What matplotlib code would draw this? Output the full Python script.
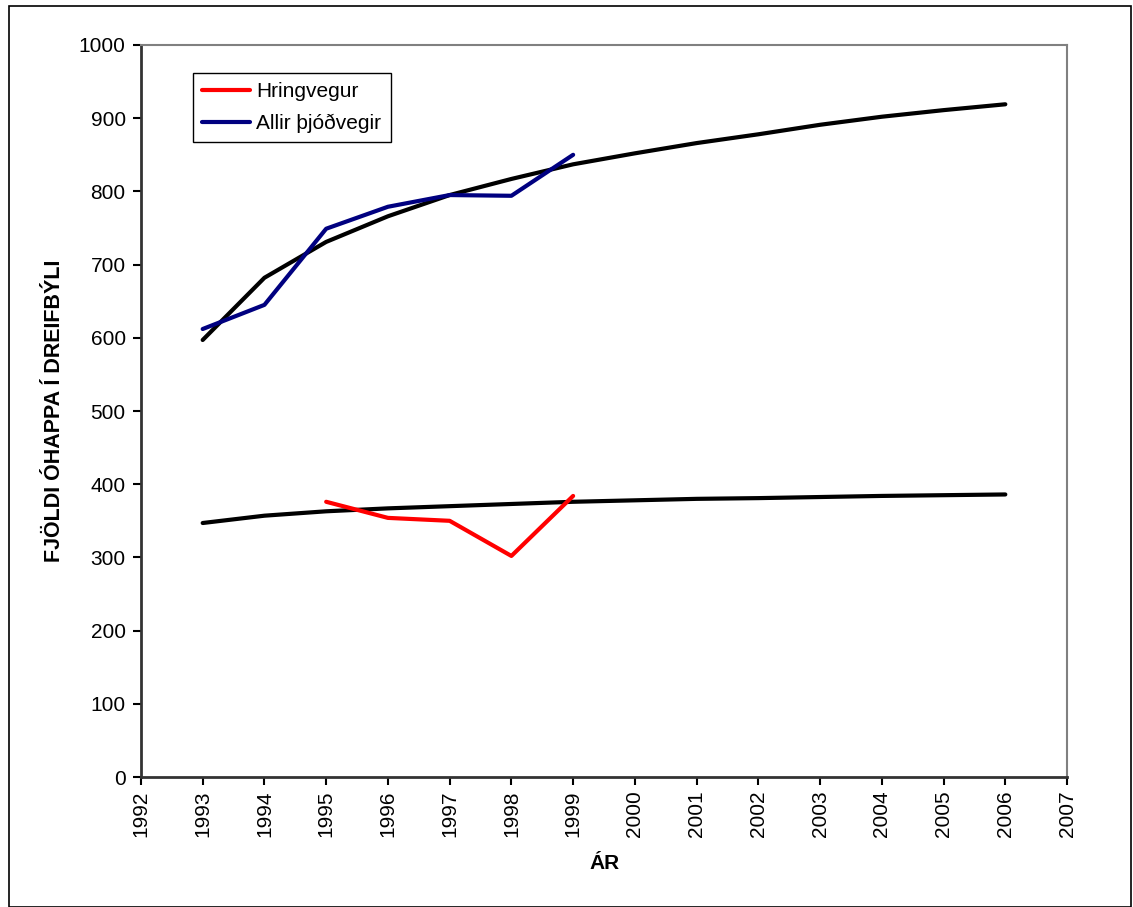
import matplotlib as mpl
mpl.rcParams['font.family'] = ['Liberation Sans', 'DejaVu Sans']
import matplotlib.pyplot as plt
from matplotlib.patches import Rectangle

# gögn lesin af myndinni
ar_all = [1993, 1994, 1995, 1996, 1997, 1998, 1999]
allir = [612, 645, 749, 779, 795, 794, 850]

ar_hring = [1995, 1996, 1997, 1998, 1999]
hringvegur = [376, 354, 350, 302, 384]

ar_spa = list(range(1993, 2007))
spa_allir = [597, 682, 731, 766, 795, 817, 837, 852, 866, 878, 891, 902, 911, 919]
spa_hring = [347, 357, 363, 367, 370, 373, 376, 378, 380, 381, 382.5, 384, 385, 386]

fig = plt.figure(figsize=(11.33, 9.07), dpi=100)
ax = fig.add_axes([0.1244, 0.1433, 0.8174, 0.8071])

ax.plot(ar_spa, spa_allir, '-', color='black', lw=3, solid_capstyle='round', zorder=2)
ax.plot(ar_spa, spa_hring, '-', color='black', lw=3, solid_capstyle='round', zorder=2)
ax.plot(ar_hring, hringvegur, '-', color='#ff0000', lw=3, solid_capstyle='round', label='Hringvegur', zorder=3)
ax.plot(ar_all, allir, '-', color='#000080', lw=3, solid_capstyle='round', label='Allir þjóðvegir', zorder=3)

ax.set_xlim(1992, 2007)
ax.set_ylim(0, 1000)
ax.set_xticks(range(1992, 2008))
ax.set_yticks(range(0, 1001, 100))
ax.tick_params(axis='x', labelrotation=90, labelsize=15, direction='out', length=6, width=1.5)
ax.tick_params(axis='y', labelsize=15, direction='out', length=6, width=1.5, pad=5)

for s in ['left', 'bottom']:
    ax.spines[s].set_linewidth(2)
    ax.spines[s].set_color('#333333')
for s in ['top', 'right']:
    ax.spines[s].set_linewidth(1.5)
    ax.spines[s].set_color('#808080')

ax.set_xlabel('ÁR', fontsize=15, fontweight='bold', labelpad=12)
ax.set_ylabel('FJÖLDI ÓHAPPA Í DREIFBÝLI', fontsize=15.5, fontweight='bold', labelpad=10)

leg = ax.legend(loc='upper left', bbox_to_anchor=(0.056, 0.962), fontsize=15, fancybox=False,
                framealpha=1, edgecolor='black', handlelength=2.3, handletextpad=0.3,
                borderpad=0.45, labelspacing=0.6, borderaxespad=0)
leg.get_frame().set_linewidth(1)

fig.patches.append(Rectangle((0.008, 0.0), 0.99, 0.993, transform=fig.transFigure,
                             fill=False, edgecolor='black', lw=1.2))

plt.savefig('out.png', dpi=100)
